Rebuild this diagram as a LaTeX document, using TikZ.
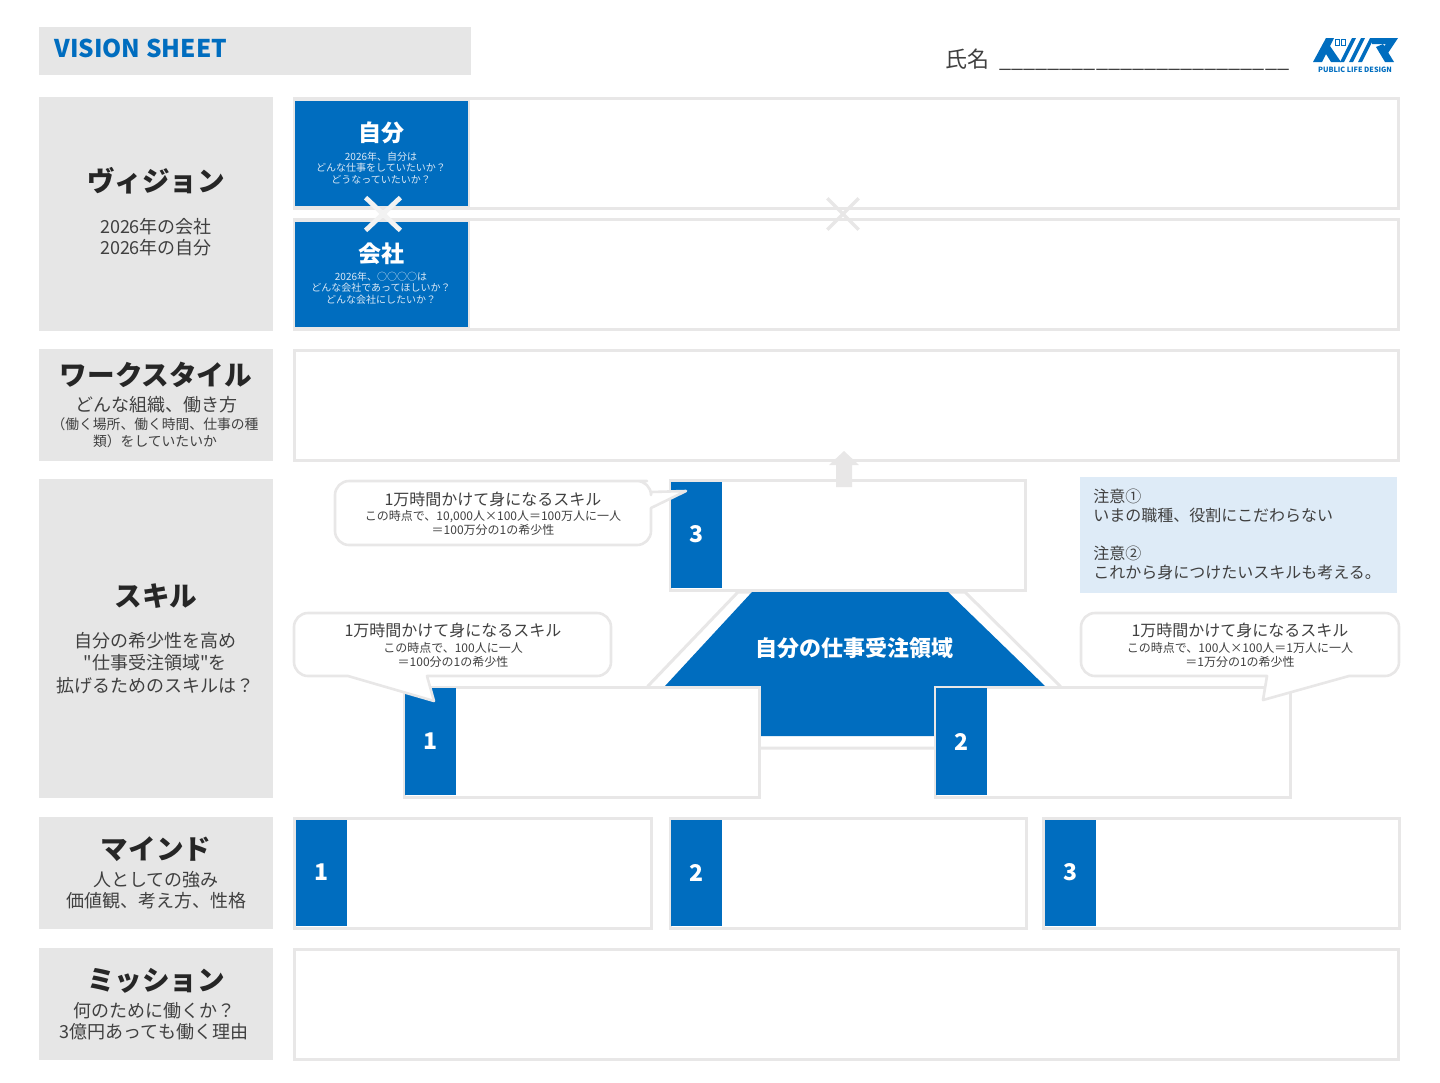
\documentclass[tikz,border=0pt]{standalone}
\usepackage{fontspec}
\setmainfont{Noto Sans CJK JP}
\newfontfamily\plainq{Noto Sans CJK JP}
\usetikzlibrary{positioning,shapes.misc}
\definecolor{sheetblue}{HTML}{006DBF}
\definecolor{sheetgray}{HTML}{E6E6E6}
\definecolor{edgegray}{HTML}{E8E7E7}
\definecolor{notefill}{HTML}{DEEBF7}
\definecolor{ink}{HTML}{404040}
\definecolor{palewhite}{HTML}{DCE9F6}
\tikzset{
  wh/.style n args={2}{minimum width=#1*0.5pt, minimum height=#2*0.5pt},
  lblbox/.style={fill=sheetgray, inner sep=0pt, outer sep=0pt},
  panel/.style={draw=edgegray, fill=white, line width=1.5pt, inner sep=0pt, outer sep=0pt},
  tagbox/.style={fill=sheetblue, text=white, inner sep=0pt, outer sep=0pt, yshift=0.5pt, font=\fontsize{11.5}{14}\selectfont\bfseries},
  bubble/.style={draw=edgegray, fill=white, line width=1.3pt, line join=round},
  headlab/.style={font=\fontsize{13.8}{16}\selectfont\bfseries, text=black!85, inner sep=0pt},
  sublab/.style={font=\fontsize{9}{10.8}\selectfont, text=ink, align=center, inner sep=0pt},
  tinylab/.style={font=\fontsize{6.9}{8.5}\selectfont, text=ink, align=center, inner sep=0pt},
  bubhead/.style={font=\fontsize{8}{9}\selectfont, text=ink, inner sep=0pt},
  bubsub/.style={font=\fontsize{6}{7}\selectfont, text=ink, align=center, inner sep=0pt},
  bluehead/.style={font=\fontsize{11.5}{14}\selectfont\bfseries, text=white, inner sep=0pt},
  bluesub/.style={font=\fontsize{5}{5.8}\selectfont, text=palewhite, align=center, inner sep=0pt},
}
\begin{document}
\begin{tikzpicture}[x=0.5pt, y=-0.5pt]
  \useasboundingbox (0,0) rectangle (1440,1082);
  % header
  \node[lblbox, wh={432}{48}, anchor=north west] (title) at (39,27) {};
  \node[font=\fontsize{12.2}{15}\selectfont\bfseries, text=sheetblue, inner sep=0pt, anchor=west] (titletxt) at (54,48) {VISION SHEET};
  \node[font=\fontsize{11}{13}\selectfont, text=ink, inner sep=0pt, anchor=west] (name) at (945,60) {氏名\hspace{5pt}{\fontsize{10.8}{13}\selectfont\_\_\_\_\_\_\_\_\_\_\_\_\_\_\_\_\_\_\_\_\_\_\_\_}};
  % logo
  \fill[sheetblue] (1313,62) -- (1326,38) -- (1334,38) -- (1330,46) -- (1341,62) -- (1331,62) -- (1326,54) -- (1322,62) -- cycle;
  \draw[sheetblue, line width=0.5pt] (1335,39) rectangle (1339,45) (1341,39) rectangle (1345,45);
  \foreach \sx in {1340,1349,1358}
    \fill[sheetblue] (\sx,62) -- (\sx+12,38) -- (\sx+16,38) -- (\sx+4,62) -- cycle;
  \fill[sheetblue] (1372,38) -- (1398,38) -- (1386,56) -- (1379,52) -- (1386,44) -- (1372,44) -- cycle;
  \fill[sheetblue] (1376,47) -- (1383,44) -- (1394,62) -- (1385,62) -- cycle;
  \node[font=\fontsize{3.6}{4}\selectfont\bfseries, text=sheetblue, inner sep=0pt] (logotxt) at (1355,70) {PUBLIC LIFE DESIGN};
  % left column
  \node[lblbox, wh={234}{234}, anchor=north west] (vis) at (39,97) {};
  \node[lblbox, wh={234}{112}, below=9pt of vis] (work) {};
  \node[lblbox, wh={234}{319}, below=9pt of work] (skill) {};
  \node[lblbox, wh={234}{112}, below=9.5pt of skill] (mind) {};
  \node[lblbox, wh={234}{112}, below=9.5pt of mind] (miss) {};
  \node[headlab] (vishd) at (156,181) {ヴィジョン};
  \node[sublab] (vissub) at (156,237) {2026年の会社\\2026年の自分};
  \node[headlab] (workhd) at (156,375) {ワークスタイル};
  \node[sublab] (worksub) at (156,405) {どんな組織、働き方};
  \node[tinylab] (worknote) at (155,433) {（働く場所、働く時間、仕事の種\\類）をしていたいか};
  \node[headlab] (skillhd) at (156,596) {スキル};
  \node[sublab, font=\fontsize{9}{11.2}\selectfont] (skillsub) at (155,663) {自分の希少性を高め\\{\plainq"}仕事受注領域{\plainq"}を\\拡げるためのスキルは？};
  \node[headlab] (mindhd) at (156,849) {マインド};
  \node[sublab] (mindsub) at (156,890) {人としての強み\\価値観、考え方、性格};
  \node[headlab] (misshd) at (156,981) {ミッション};
  \node[sublab] (misssub) at (154,1021) {何のために働くか？\\3億円あっても働く理由};
  % vision panels
  \node[panel, wh={1104}{110}, anchor=north west] (pself) at (294.5,98.5) {};
  \node[panel, wh={1104}{110}, anchor=north west] (pco) at (294.5,219.5) {};
  \node[tagbox, draw=edgegray, line width=1pt, wh={175}{107}, yshift=-0.5pt, right=-0.5pt of pself.west] (self) {};
  \node[tagbox, draw=edgegray, line width=1pt, wh={175}{107}, yshift=-0.5pt, right=-0.5pt of pco.west] (co) {};
  \node[bluehead] (selfhd) at (381,133) {自分};
  \node[bluesub] (selfsub) at (381,168) {2026年、自分は\\どんな仕事をしていたいか？\\どうなっていたいか？};
  \node[bluehead] (cohd) at (381,254) {会社};
  \node[bluesub] (cosub) at (381,288) {2026年、○○○○は\\どんな会社であってほしいか？\\どんな会社にしたいか？};
  \node[cross out, draw=edgegray!55, line width=2.4pt, inner sep=0pt, wh={30}{28}] (timesa) at (383,214) {};
  \node[cross out, draw=edgegray, line width=1.7pt, inner sep=0pt, wh={28}{28}] (timesb) at (843,214) {};
  % work + mission panels
  \node[panel, wh={1104}{110}, anchor=north west] (pwork) at (294.5,350.5) {};
  \node[panel, wh={1104}{110}, anchor=north west] (pmiss) at (294.5,949.5) {};
  % skill area
  \draw[panel] (738,592) -- (965,592) -- (1060,686) -- (1060,748) -- (648,748) -- (648,686) -- cycle;
  \fill[sheetblue] (752,592) -- (948,592) -- (1045,686) -- (1045,736) -- (665,736) -- (665,686) -- cycle;
  \node[font=\fontsize{11}{13}\selectfont\bfseries, text=white, inner sep=0pt] (area) at (854,648) {自分の仕事受注領域};
  \node[panel, wh={355}{110}, anchor=north west] (s3) at (670,480.5) {};
  \node[tagbox, wh={51}{106}, right=0.5pt of s3.west] (t3) {3};
  \fill[edgegray] (844,451) -- (859,465) -- (852,465) -- (852,487) -- (836,487) -- (836,465) -- (829,465) -- cycle;
  \node[panel, wh={355}{110}, anchor=north west] (s1) at (404,687.5) {};
  \node[tagbox, wh={51}{107}, right=0.5pt of s1.west] (t1) {1};
  \node[panel, wh={355}{110}, anchor=north west] (s2) at (935,687.5) {};
  \node[tagbox, wh={51}{107}, right=0.5pt of s2.west] (t2) {2};
  \node[anchor=north west, fill=notefill, inner sep=0pt, wh={317}{116}] (note) at (1080,477) {};
  \node[font=\fontsize{8}{9.5}\selectfont, text=ink, align=left, inner sep=0pt, anchor=west] (notetxt) at (1093,534) {注意①\\いまの職種、役割にこだわらない\\\\注意②\\これから身につけたいスキルも考える。};
  % callouts
  \draw[bubble, rounded corners=7pt] (352,481) -- (633,481) -- (651,481) [sharp corners] -- (651,492) -- (686,491) -- (651,508) [rounded corners=7pt] -- (651,545) -- (335,545) -- (335,481) -- (352,481);
  \node[bubhead] (b3hd) at (493,499) {1万時間かけて身になるスキル};
  \node[bubsub] (b3sub) at (493,523) {この時点で、10,000人×100人＝100万人に一人\\＝100万分の1の希少性};
  \draw[bubble, rounded corners=7pt] (312,613) -- (611,613) -- (611,676) [sharp corners] -- (427,676) -- (434,701) -- (348,676) [rounded corners=7pt] -- (294,676) -- (294,613) -- (312,613);
  \node[bubhead] (b1hd) at (453,630) {1万時間かけて身になるスキル};
  \node[bubsub] (b1sub) at (453,655) {この時点で、100人に一人\\＝100分の1の希少性};
  \draw[bubble, rounded corners=7pt] (1100,613) -- (1399,613) -- (1399,676) [sharp corners] -- (1349,676) -- (1263,700) -- (1267,676) [rounded corners=7pt] -- (1081,676) -- (1081,613) -- (1100,613);
  \node[bubhead] (b2hd) at (1240,630) {1万時間かけて身になるスキル};
  \node[bubsub] (b2sub) at (1240,655) {この時点で、100人×100人＝1万人に一人\\＝1万分の1の希少性};
  % mind panels
  \node[panel, wh={357}{110}, anchor=north west] (m1) at (294.5,818.5) {};
  \node[tagbox, wh={51}{106}, right=0.5pt of m1.west] (n1) {1};
  \node[panel, wh={356}{110}, anchor=north west] (m2) at (670,818.5) {};
  \node[tagbox, wh={51}{106}, right=0.5pt of m2.west] (n2) {2};
  \node[panel, wh={356}{110}, anchor=north west] (m3) at (1043.5,818.5) {};
  \node[tagbox, wh={51}{106}, right=0.5pt of m3.west] (n3) {3};
\end{tikzpicture}
\end{document}
